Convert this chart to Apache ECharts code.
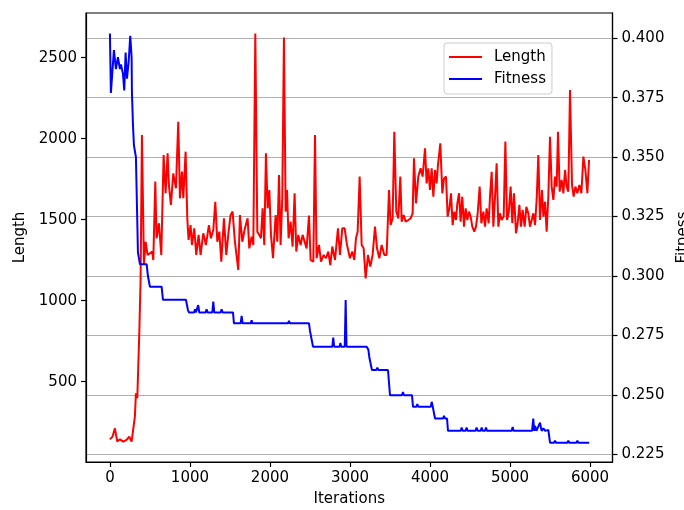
<!DOCTYPE html>
<html>
<head>
<meta charset="utf-8">
<script src="https://cdn.jsdelivr.net/npm/echarts@6/dist/echarts.min.js"></script>
<style>html,body{margin:0;padding:0;background:#fff;}#c{width:684px;height:510px;}</style>
</head>
<body>
<div id="c"></div>
<script>
const xTicks = [0, 1000, 2000, 3000, 4000, 5000, 6000];
const lengthTicks = [500, 1000, 1500, 2000, 2500];
const fitnessTicks = [0.225, 0.25, 0.275, 0.3, 0.325, 0.35, 0.375, 0.4];

const lenIter = [
0,33,62,92,125,167,208,242,271,312,325,342,367,383,400,425,446,471,500,529,
542,567,583,612,642,671,696,721,737,762,792,825,854,875,900,917,946,967,983,1008,
1025,1054,1079,1108,1133,1167,1200,1237,1262,1292,1317,1342,1367,1392,1425,1454,1483,1508,1533,1562,
1604,1625,1654,1687,1721,1742,1771,1792,1817,1842,1867,1887,1908,1929,1950,1971,1992,2013,2038,2071,
2092,2113,2133,2154,2175,2196,2213,2233,2258,2283,2308,2329,2354,2383,2408,2429,2458,2488,2508,2542,
2563,2583,2613,2638,2671,2700,2729,2754,2779,2813,2850,2875,2904,2933,2963,3000,3029,3054,3075,3096,
3121,3146,3171,3196,3225,3254,3283,3313,3338,3367,3396,3429,3458,3488,3508,3533,3554,3579,3604,3629,
3646,3671,3696,3729,3758,3783,3800,3825,3854,3883,3908,3938,3958,3979,4000,4021,4042,4063,4083,4100,
4129,4154,4175,4200,4221,4242,4263,4283,4304,4325,4342,4363,4383,4404,4425,4446,4467,4488,4508,4529,
4554,4575,4596,4621,4642,4667,4688,4708,4733,4750,4771,4792,4813,4833,4854,4875,4896,4921,4942,4963,
4983,5008,5029,5050,5075,5096,5117,5138,5158,5183,5204,5229,5250,5271,5292,5313,5333,5354,5375,5400,
5417,5438,5458,5479,5500,5521,5542,5563,5583,5600,5621,5646,5667,5688,5708,5729,5750,5775,5796,5817,
5842,5867,5892,5917,5942,5967,5988
];
const lenVal = [
144,161,212,130,144,130,140,161,130,284,428,397,799,1128,2023,1220,1364,1282,1292,1303,
1251,1735,1385,1478,1282,1899,1663,1910,1714,1591,1786,1694,2105,1632,1797,1632,1920,1508,1375,1467,
1344,1447,1282,1406,1282,1416,1344,1467,1385,1436,1611,1364,1426,1241,1508,1282,1426,1529,1550,1364,
1190,1529,1364,1447,1508,1323,1395,1344,2650,1426,1406,1385,1570,1344,1910,1570,1683,1406,1262,1529,
1364,1776,1344,1632,2624,1550,1683,1385,1488,1334,1663,1303,1406,1344,1406,1416,1323,1525,1251,1241,
2023,1262,1344,1241,1282,1262,1303,1220,1334,1251,1447,1282,1447,1447,1344,1262,1303,1251,1385,1426,
1766,1344,1323,1138,1282,1210,1282,1457,1323,1262,1344,1282,1282,1683,1467,1508,2043,1550,1508,1766,
1488,1529,1488,1498,1508,1539,1879,1601,1766,1817,1766,1941,1724,1817,1683,1817,1642,1807,1724,1838,
1971,1663,1755,1766,1519,1570,1663,1467,1550,1498,1601,1663,1488,1642,1457,1570,1498,1550,1519,1457,
1426,1457,1539,1704,1478,1550,1457,1570,1478,1642,1796,1457,1642,1848,1457,1539,1498,1519,1982,1498,
1539,1704,1478,1663,1416,1478,1591,1457,1560,1457,1580,1539,1457,1447,1539,1467,1622,1899,1498,1683,
1519,1611,1426,1642,2012,1704,1622,1766,1704,2043,1673,1745,1663,1807,1704,1673,2301,1714,1642,1704,
1663,1714,1663,1889,1807,1663,1869
];

const fitIter = [
0,12,50,75,100,125,138,163,179,196,213,234,254,271,275,288,300,325,350,375,
459,475,500,646,663,950,975,988,1052,1063,1074,1092,1104,1116,1196,1208,1220,1280,1292,1304,
1384,1396,1408,1538,1550,1634,1646,1658,1760,1771,1782,2226,2238,2250,2488,2500,2538,2780,2791,2802,
2870,2880,2890,2935,2946,2957,3209,3230,3244,3275,3330,3342,3354,3475,3500,3650,3662,3675,3775,3788,
3830,3842,3855,4010,4021,4035,4063,4163,4175,4187,4213,4225,4384,4396,4408,4446,4458,4470,4571,4583,
4595,4634,4646,4658,4688,4700,4712,5021,5033,5045,5275,5291,5302,5313,5330,5375,5395,5417,5440,5479,
5500,5551,5563,5575,5717,5729,5741,5830,5842,5854,5990
];
const fitVal = [
0.402,0.377,0.395,0.387,0.392,0.387,0.389,0.385,0.378,0.394,0.383,0.390,0.401,0.392,0.3775,0.3635,0.355,0.350,0.310,0.305,
0.305,0.300,0.2955,0.2955,0.290,0.290,0.2857,0.2847,0.2847,0.2860,0.2847,0.2847,0.2878,0.2847,0.2847,0.2860,0.2847,0.2847,0.2892,0.2847,
0.2847,0.2860,0.2847,0.2847,0.2801,0.2801,0.2832,0.2801,0.2801,0.2814,0.2801,0.2801,0.2812,0.2801,0.2801,0.2770,0.2703,0.2703,0.2741,0.2703,
0.2703,0.2718,0.2703,0.2703,0.2899,0.2703,0.2703,0.2690,0.2654,0.2605,0.2605,0.2615,0.2605,0.2605,0.2499,0.2499,0.2512,0.2499,0.2499,0.2450,
0.2450,0.2462,0.2450,0.2450,0.2471,0.2450,0.2401,0.2401,0.2412,0.2401,0.2401,0.2349,0.2349,0.2363,0.2349,0.2349,0.2363,0.2349,0.2349,0.2363,
0.2349,0.2349,0.2363,0.2349,0.2349,0.2363,0.2349,0.2349,0.2365,0.2349,0.2349,0.2401,0.2349,0.2370,0.2349,0.2383,0.2349,0.2360,0.2349,0.2353,
0.2299,0.2299,0.2308,0.2299,0.2299,0.2308,0.2299,0.2299,0.2308,0.2299,0.2299
];

const FONT = 'DejaVu Sans';
const lenData = lenIter.map((x, i) => [x, lenVal[i]]);
const fitData = fitIter.map((x, i) => [x, fitVal[i]]);

const chart = echarts.init(document.getElementById('c'), null, {renderer: 'canvas'});
chart.setOption({
  animation: false,
  backgroundColor: '#fff',
  textStyle: {fontFamily: FONT},
  grid: {left: 86, right: 71.5, top: 13, bottom: 48, show: true, borderColor: '#000', borderWidth: 1.2,
         backgroundColor: 'transparent', containLabel: false, outerBoundsMode: 'none'},
  legend: {
    data: [{name: 'Length', icon: 'rect'}, {name: 'Fitness', icon: 'rect'}],
    orient: 'vertical',
    left: 444, top: 43,
    itemWidth: 33, itemHeight: 2.2, itemGap: 4,
    padding: [5, 6, 6, 5],
    backgroundColor: 'rgba(255,255,255,0.8)',
    borderColor: '#cccccc', borderWidth: 1, borderRadius: 3,
    textStyle: {fontFamily: FONT, fontSize: 15, color: '#000', padding: [0, 0, 0, 7], lineHeight: 18}
  },
  xAxis: {
    type: 'value', min: -299, max: 6281,
    name: 'Iterations', nameLocation: 'middle', nameGap: 30,
    nameTextStyle: {fontFamily: FONT, fontSize: 15, color: '#000'},
    axisLine: {show: true, onZero: false, lineStyle: {color: '#000', width: 1.2}},
    axisTick: {show: true, length: 5, lineStyle: {color: '#000', width: 1.2}, customValues: xTicks},
    axisLabel: {fontFamily: FONT, fontSize: 15, color: '#000', margin: 9, customValues: xTicks,
      formatter: v => String(v)},
    splitLine: {show: false}
  },
  yAxis: [
    {
      type: 'value', position: 'left', min: 4, max: 2776,
      name: 'Length', nameLocation: 'middle', nameRotate: 90, nameGap: 49,
      nameTextStyle: {fontFamily: FONT, fontSize: 15, color: '#000'},
      axisLine: {show: true, onZero: false, lineStyle: {color: '#000', width: 1.2}},
      axisTick: {show: true, length: 5, lineStyle: {color: '#000', width: 1.2}, customValues: lengthTicks},
      axisLabel: {fontFamily: FONT, fontSize: 15, color: '#000', margin: 9, customValues: lengthTicks,
        formatter: v => String(v)},
      splitLine: {show: false}
    },
    {
      type: 'value', position: 'right', min: 0.2218, max: 0.4106,
      name: 'Fitness', nameLocation: 'middle', nameRotate: 90, nameGap: 62,
      nameTextStyle: {fontFamily: FONT, fontSize: 15, color: '#000'},
      axisLine: {show: true, onZero: false, lineStyle: {color: '#000', width: 1.2}},
      axisTick: {show: true, length: 5, lineStyle: {color: '#000', width: 1.2}, customValues: fitnessTicks},
      axisLabel: {fontFamily: FONT, fontSize: 15, color: '#000', margin: 9, customValues: fitnessTicks,
        formatter: v => Number(v).toFixed(3)},
      splitLine: {show: true, lineStyle: {color: '#b0b0b0', width: 1.2}}
    }
  ],
  series: [
    {name: 'Length', type: 'line', yAxisIndex: 0, data: lenData, symbol: 'none',
     lineStyle: {color: '#ff0000', width: 2}, itemStyle: {color: '#ff0000'}},
    {name: 'Fitness', type: 'line', yAxisIndex: 1, data: fitData, symbol: 'none',
     lineStyle: {color: '#0000ff', width: 2}, itemStyle: {color: '#0000ff'}}
  ]
});
</script>
</body>
</html>
